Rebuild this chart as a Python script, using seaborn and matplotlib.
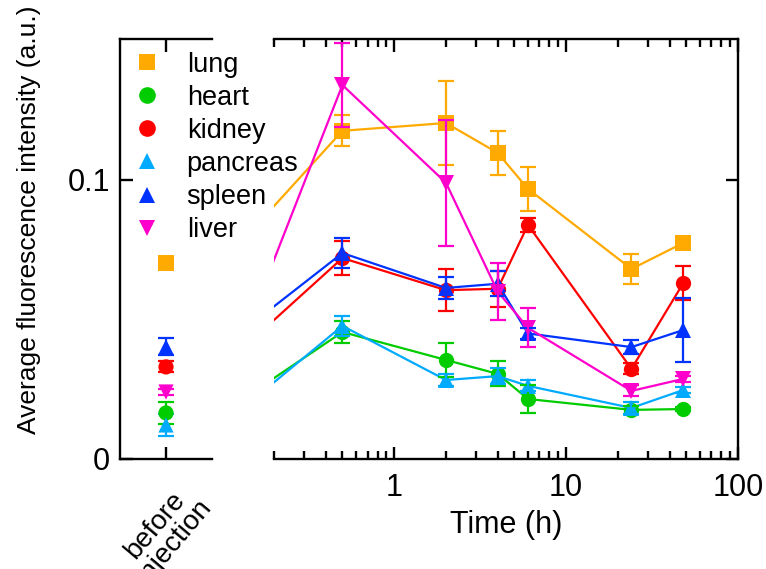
import numpy as np
import pandas as pd
import matplotlib
matplotlib.use("Agg")
import matplotlib.pyplot as plt
import seaborn as sns
from matplotlib.lines import Line2D
from matplotlib.ticker import LogLocator, NullFormatter, FixedLocator

# ---------------- data ----------------
organs = ["lung", "heart", "kidney", "pancreas", "spleen", "liver"]
times = [0.5, 2, 4, 6, 24, 48]
before_x = 0.1  # anchor of "before injection" on time axis (off-scale)

lung = [0.1176, 0.1204, 0.1097, 0.0968, 0.0681, 0.0774]
heart = [0.0455, 0.0355, 0.0305, 0.0215, 0.0176, 0.0179]
kidney = [0.0720, 0.0605, 0.0610, 0.0839, 0.0323, 0.0630]
pancreas = [0.0477, 0.0283, 0.0297, 0.0262, 0.0183, 0.0247]
spleen = [0.0738, 0.0613, 0.0628, 0.0450, 0.0401, 0.0462]
liver = [0.1340, 0.0990, 0.0600, 0.0470, 0.0244, 0.0287]

lung_err = [0.0055, 0.0150, 0.0080, 0.0080, 0.0054, 0.0015]
heart_err = [0.0040, 0.0060, 0.0045, 0.0050, 0.0015, 0.0008]
kidney_err = [0.0060, 0.0075, 0.0065, 0.0025, 0.0020, 0.0060]
pancreas_err = [0.0035, 0.0020, 0.0030, 0.0020, 0.0020, 0.0010]
spleen_err = [0.0055, 0.0040, 0.0045, 0.0020, 0.0025, 0.0115]
liver_err = [0.0150, 0.0225, 0.0103, 0.0070, 0.0020, 0.0010]

before = [0.0702, 0.0165, 0.0330, 0.0122, 0.0402, 0.0240]
before_err = [0.0010, 0.0040, 0.0020, 0.0040, 0.0030, 0.0010]

values = [lung, heart, kidney, pancreas, spleen, liver]
errors = [lung_err, heart_err, kidney_err, pancreas_err, spleen_err, liver_err]

colors = ["#FFAA00", "#00CC00", "#FF0000", "#00AAFF", "#0033FF", "#FF00CC"]
markers = ["s", "o", "o", "^", "^", "v"]

# ---------------- frames ----------------
rows = []
for org, vals, b in zip(organs, values, before):
    rows.append({"organ": org, "time": before_x, "value": b})
    for t, v in zip(times, vals):
        rows.append({"organ": org, "time": t, "value": v})
df = pd.DataFrame(rows)

bdf = pd.DataFrame({"organ": organs, "pos": [0] * len(organs), "value": before, "err": before_err})

# ---------------- style ----------------
sns.set_style("ticks")
plt.rcParams["font.family"] = ["Liberation Sans", "DejaVu Sans"]
plt.rcParams.update({
    "axes.linewidth": 1.7,
    "axes.edgecolor": "black",
    "text.color": "black",
    "axes.labelcolor": "black",
    "xtick.color": "black",
    "ytick.color": "black",
})

fig = plt.figure(figsize=(7.66, 5.69), dpi=100)
axL = fig.add_axes([120 / 766, 110 / 569, 92 / 766, 420 / 569])
axR = fig.add_axes([274 / 766, 110 / 569, 464 / 766, 420 / 569])

palette = dict(zip(organs, colors))
mdict = dict(zip(organs, markers))

LW = 1.6

# main panel
sns.lineplot(data=df, x="time", y="value", hue="organ", style="organ",
             palette=palette, markers=mdict, dashes=False, sort=False,
             estimator=None, markersize=11, markeredgewidth=0, linewidth=LW,
             legend=False, ax=axR)
for org, vals, errs, c in zip(organs, values, errors, colors):
    axR.errorbar(times, vals, yerr=errs, fmt="none", ecolor=c, elinewidth=LW,
                 capsize=5.5, capthick=LW)

axR.set_xscale("log")
axR.set_xlim(0.2, 100)
axR.set_ylim(0, 0.1505)
axR.xaxis.set_major_locator(FixedLocator([1, 10, 100]))
axR.xaxis.set_minor_locator(LogLocator(base=10, subs=np.arange(2, 10)))
axR.xaxis.set_minor_formatter(NullFormatter())
axR.set_xticklabels(["1", "10", "100"])
axR.tick_params(axis="x", which="major", direction="in", length=9, width=1.7,
                top=True, labelsize=22, pad=10)
axR.tick_params(axis="x", which="minor", direction="in", length=5.5, width=1.7, top=True)
axR.yaxis.tick_right()
axR.set_yticks([0, 0.1])
axR.tick_params(axis="y", which="both", direction="in", length=9, width=1.7,
                labelright=False, left=False, right=True)
axR.spines["left"].set_visible(False)
axR.set_xlabel("Time (h)", fontsize=22, labelpad=5)
axR.set_ylabel("")

# before-injection panel
sns.scatterplot(data=bdf, x="pos", y="value", hue="organ", style="organ",
                palette=palette, markers=mdict, s=120, linewidth=0,
                legend=False, ax=axL, zorder=3)
for org, b, be, c in zip(organs, before, before_err, colors):
    axL.errorbar([0], [b], yerr=[be], fmt="none", ecolor=c, elinewidth=LW,
                 capsize=5.5, capthick=LW)
axL.set_xlim(-0.5, 0.5)
axL.set_ylim(0, 0.1505)
axL.set_xticks([0])
axL.set_xticklabels([])
axL.set_yticks([0, 0.1])
axL.set_yticklabels(["0", "0.1"])
axL.tick_params(axis="y", direction="in", length=9, width=1.7, labelsize=22, pad=7)
axL.tick_params(axis="x", direction="in", length=9, width=1.7, top=True)
axL.spines["right"].set_visible(False)
axL.set_xlabel("")
axL.set_ylabel("Average fluorescence intensity (a.u.)", fontsize=19)
axL.yaxis.set_label_coords(-0.86, 0.57)
axL.text(0.13, -0.007, "before\ninjection", rotation=50, ha="right", va="top",
         fontsize=20, rotation_mode="anchor", linespacing=0.9,
         transform=axL.transData, multialignment="center", clip_on=False)

# legend
handles = [Line2D([], [], linestyle="none", marker=m, color=c, markersize=12,
                  markeredgewidth=0) for m, c in zip(markers, colors)]
fig.legend(handles, organs, loc="upper left", bbox_to_anchor=(123 / 766, 1 - 41 / 569),
           frameon=False, fontsize=19.5, handletextpad=0.95, labelspacing=0.26,
           borderaxespad=0, handlelength=1.0)

fig.savefig("out.png", dpi=100)
